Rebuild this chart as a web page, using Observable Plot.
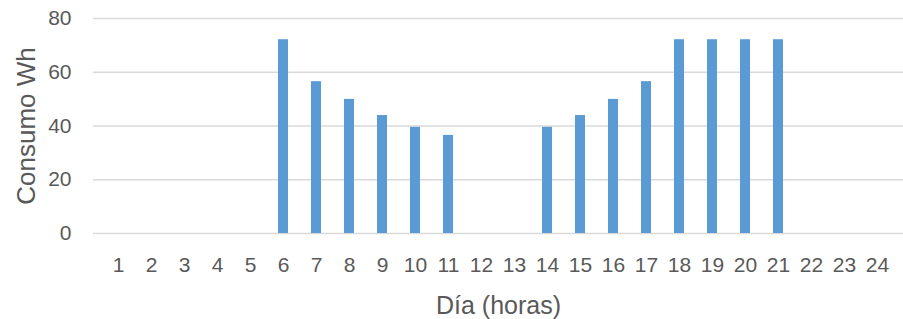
<!DOCTYPE html>
<html>
<head>
<meta charset="utf-8">
<script src="https://cdn.jsdelivr.net/npm/d3@7"></script>
<script src="https://cdn.jsdelivr.net/npm/@observablehq/plot@0.6"></script>
<style>
  html, body { margin: 0; padding: 0; background: #fff; }
  #chart svg { display: block; }
</style>
</head>
<body>
<div id="chart"></div>
<script>
const hours = [1,2,3,4,5,6,7,8,9,10,11,12,13,14,15,16,17,18,19,20,21,22,23,24];
const consumo = [0,0,0,0,0,72.1,56.5,49.9,43.9,39.5,36.5,0,0,39.5,43.9,49.9,56.5,72.1,72.1,72.1,72.1,0,0,0];
const yTicks = [0,20,40,60,80];
const xTitle = "Día (horas)";
const yTitle = "Consumo Wh";

const data = hours.map((h, i) => ({hora: h, valor: consumo[i]}));

const chart = Plot.plot({
  width: 903,
  height: 319,
  marginLeft: 93,
  marginRight: 0,
  marginTop: 18,
  marginBottom: 86,
  style: {fontFamily: "'Liberation Sans', Arial, sans-serif", background: "#fff"},
  x: {type: "band", domain: hours, paddingInner: 0.69, paddingOuter: 0.345, align: 0.5},
  y: {domain: [0, 80], ticks: yTicks},
  marks: [
    Plot.gridY(yTicks, {stroke: "#d9d9d9", strokeOpacity: 1, strokeWidth: 1.4}),
    Plot.barY(data, {x: "hora", y: "valor", fill: "#5b9bd5"}),
    Plot.axisX({tickSize: 0, tickPadding: 24, fontSize: 21, color: "#595959", label: null}),
    Plot.axisY(yTicks, {tickSize: 0, tickPadding: 22, fontSize: 21, color: "#595959", label: null}),
    Plot.text([xTitle], {frameAnchor: "bottom", dy: 72, textAnchor: "middle", lineAnchor: "middle",
      fontSize: 25, fill: "#595959", text: d => d}),
    Plot.text([yTitle], {frameAnchor: "left", dx: -67, rotate: -90, textAnchor: "middle", lineAnchor: "middle",
      fontSize: 26, fill: "#595959", text: d => d})
  ]
});
document.getElementById("chart").appendChild(chart);
</script>
</body>
</html>
